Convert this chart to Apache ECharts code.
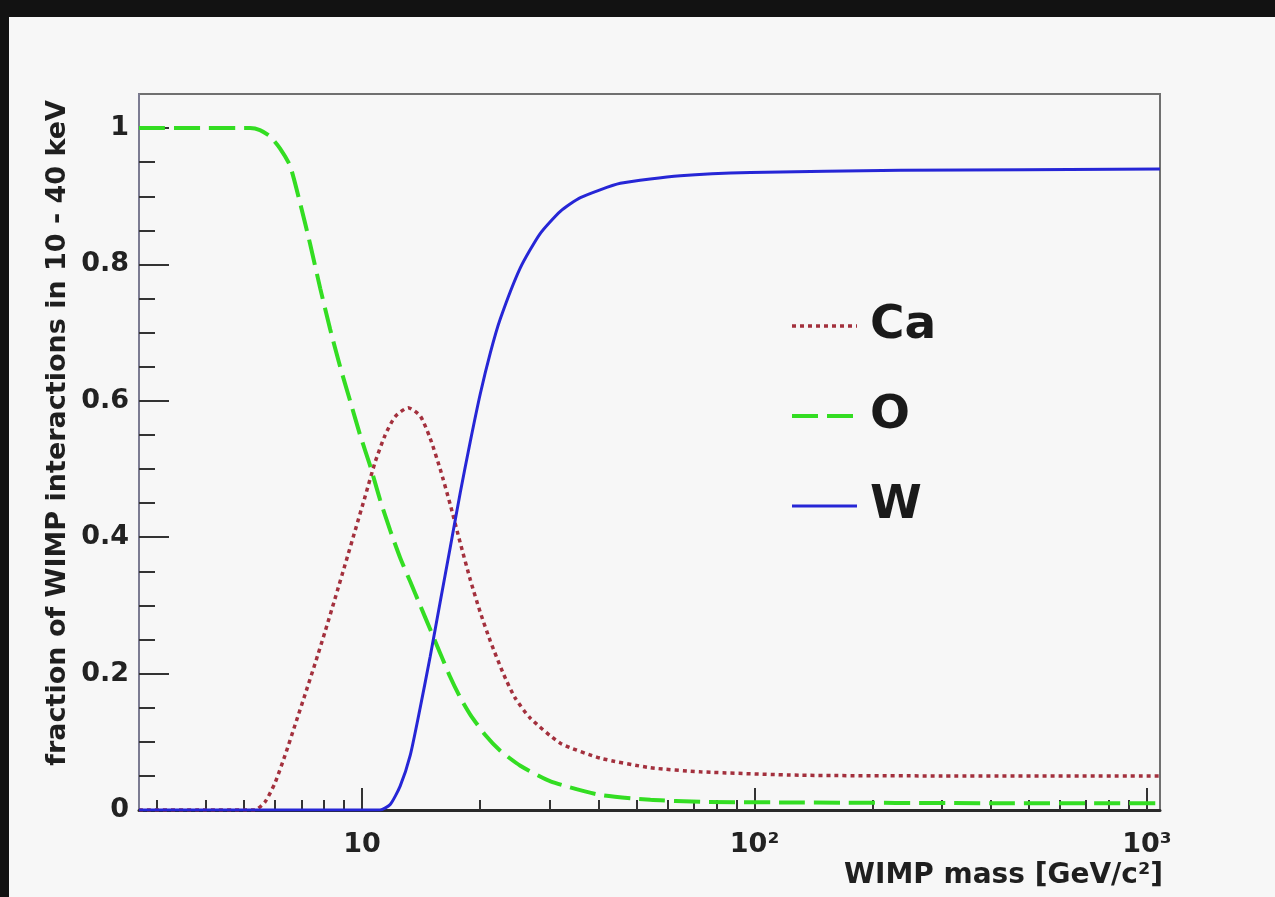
<!DOCTYPE html>
<html>
<head>
<meta charset="utf-8">
<title>WIMP interaction fractions</title>
<script src="https://cdn.jsdelivr.net/npm/echarts@6/dist/echarts.min.js"></script>
<style>
  html, body { margin: 0; padding: 0; background: #111; }
  #chart { width: 1275px; height: 897px; }
</style>
</head>
<body>
<div id="chart"></div>
<script>
// WIMP mass grid (GeV/c^2) and fraction of interactions in 10 - 40 keV per target nucleus
const caMass = [2.7, 4, 5, 5.33, 5.66, 6.0, 6.36, 6.75, 7.16, 7.59, 8.05, 8.53, 9.05, 9.6, 10.18, 10.79, 11.45, 12.14, 13.1, 14.06, 14.91, 15.81, 16.77, 17.78, 18.86, 20.0, 21.21, 22.9, 24.5, 26.8, 32.0, 40.5, 54.3, 72.8, 131, 300, 1080];
const caFrac = [0, 0, 0, 0, 0.012, 0.04, 0.08, 0.125, 0.17, 0.215, 0.262, 0.31, 0.36, 0.41, 0.46, 0.51, 0.55, 0.577, 0.59, 0.578, 0.545, 0.50, 0.448, 0.392, 0.338, 0.29, 0.248, 0.20, 0.165, 0.135, 0.098, 0.076, 0.062, 0.056, 0.051, 0.05, 0.05];

const oMass = [2.7, 4, 5.18, 5.49, 5.82, 6.18, 6.55, 6.95, 7.37, 7.82, 8.29, 8.79, 9.32, 9.88, 10.48, 11.11, 11.79, 12.5, 13.26, 14.06, 14.91, 15.81, 16.77, 17.78, 18.86, 20.6, 22.49, 25.3, 30.2, 40.5, 54.3, 72.8, 131, 400, 1080];
const oFrac = [1, 1, 1, 0.997, 0.988, 0.97, 0.945, 0.89, 0.83, 0.765, 0.705, 0.65, 0.60, 0.55, 0.505, 0.455, 0.41, 0.37, 0.335, 0.30, 0.265, 0.23, 0.195, 0.165, 0.14, 0.11, 0.087, 0.065, 0.042, 0.022, 0.015, 0.012, 0.011, 0.01, 0.01];

const wMass = [2.7, 5, 10, 11.11, 11.79, 12.5, 13.26, 14.06, 14.91, 15.81, 16.77, 17.78, 18.86, 20.0, 21.21, 22.49, 25.3, 28.4, 32.0, 36.0, 45.5, 64.7, 97.7, 235.7, 1080];
const wFrac = [0, 0, 0, 0, 0.008, 0.035, 0.08, 0.15, 0.225, 0.305, 0.385, 0.465, 0.54, 0.61, 0.67, 0.72, 0.795, 0.845, 0.878, 0.898, 0.919, 0.93, 0.935, 0.938, 0.94];

const seriesNames = ['Ca', 'O', 'W'];

// axis ticks
const xMajorTicks = [10, 100, 1000];
const xMajorLabels = ['10', '10²', '10³'];
const xMinorTicks = [3, 4, 5, 6, 7, 8, 9, 20, 30, 40, 50, 60, 70, 80, 90, 200, 300, 400, 500, 600, 700, 800, 900];
const yMajorTicks = [0, 0.2, 0.4, 0.6, 0.8, 1];
const yMinorTicks = [0.05, 0.1, 0.15, 0.25, 0.3, 0.35, 0.45, 0.5, 0.55, 0.65, 0.7, 0.75, 0.85, 0.9, 0.95];

const xTitle = 'WIMP mass [GeV/c²]';
const yTitle = 'fraction of WIMP interactions in 10 - 40 keV';

const FONT = '"DejaVu Sans", "Liberation Sans", sans-serif';
const X_MIN = 2.7, X_MAX = 1080, Y_MIN = 0, Y_MAX = 1.05;

// line styles per nucleus
const styles = {
  Ca: { color: '#a3303d', width: 3.5, type: [4, 4] },
  O: { color: '#33dd22', width: 4, type: [26, 9] },
  W: { color: '#2626d6', width: 3, type: 'solid' }
};

function pairs(xs, ys) { return xs.map((x, i) => [x, ys[i]]); }

const chart = echarts.init(document.getElementById('chart'), null, { renderer: 'canvas' });

const baseX = {
  type: 'log', logBase: 10, min: X_MIN, max: X_MAX, gridIndex: 0, position: 'bottom',
  splitLine: { show: false }, minorTick: { show: false }, minorSplitLine: { show: false }
};
const baseY = {
  type: 'value', min: Y_MIN, max: Y_MAX, gridIndex: 0, position: 'left',
  splitLine: { show: false }, minorTick: { show: false }, minorSplitLine: { show: false }
};

function lineSeries(name, xs, ys) {
  const s = styles[name];
  return {
    name, type: 'line', xAxisIndex: 0, yAxisIndex: 0,
    data: pairs(xs, ys), symbol: 'none', smooth: 0.2,
    lineStyle: { color: s.color, width: s.width, type: s.type }, itemStyle: { color: s.color }
  };
}

chart.setOption({
  backgroundColor: '#f7f7f7',
  animation: false,
  grid: { left: 139, right: 115, top: 94, bottom: 87, show: true, borderColor: '#707070', borderWidth: 2, backgroundColor: 'transparent' },
  xAxis: [
    Object.assign({}, baseX, {
      axisLine: { show: true, onZero: false, lineStyle: { color: '#2a2a2a', width: 3 } },
      axisTick: { show: true, inside: true, length: 22, customValues: xMajorTicks, lineStyle: { color: '#333', width: 2 } },
      axisLabel: {
        show: true, margin: 21, customValues: xMajorTicks,
        formatter: v => xMajorLabels[xMajorTicks.indexOf(Math.round(v))] || '',
        fontFamily: FONT, fontWeight: 'bold', fontSize: 27, color: '#222'
      }
    }),
    Object.assign({}, baseX, {
      axisLine: { show: false },
      axisTick: { show: true, inside: true, length: 10, customValues: xMinorTicks, lineStyle: { color: '#333', width: 2 } },
      axisLabel: { show: false }
    })
  ],
  yAxis: [
    Object.assign({}, baseY, {
      axisLine: { show: true, onZero: false, lineStyle: { color: '#7c7c92', width: 2 } },
      axisTick: { show: true, inside: true, length: 30, customValues: yMajorTicks, lineStyle: { color: '#333', width: 2 } },
      axisLabel: {
        show: true, margin: 10, customValues: yMajorTicks,
        formatter: v => String(Math.round(v * 10) / 10),
        fontFamily: FONT, fontWeight: 'bold', fontSize: 27, color: '#222'
      }
    }),
    Object.assign({}, baseY, {
      axisLine: { show: false },
      axisTick: { show: true, inside: true, length: 16, customValues: yMinorTicks, lineStyle: { color: '#333', width: 2 } },
      axisLabel: { show: false }
    })
  ],
  legend: {
    orient: 'vertical', left: 785, top: 296,
    itemWidth: 65, itemHeight: 14, itemGap: 40,
    data: seriesNames.map(n => ({ name: n, lineStyle: { width: styles[n].width, type: styles[n].type, color: styles[n].color } })),
    itemStyle: { opacity: 0 },
    textStyle: { fontFamily: FONT, fontWeight: 'bold', fontSize: 47, lineHeight: 50, color: '#1a1a1a', padding: [0, 0, 0, 8] }
  },
  series: [
    lineSeries('Ca', caMass, caFrac),
    lineSeries('O', oMass, oFrac),
    lineSeries('W', wMass, wFrac)
  ],
  graphic: [
    { type: 'rect', silent: true, z: 100, shape: { x: 0, y: 0, width: 1275, height: 17 }, style: { fill: '#121212' } },
    { type: 'rect', silent: true, z: 100, shape: { x: 0, y: 0, width: 9, height: 897 }, style: { fill: '#121212' } },
    {
      type: 'text', silent: true, z: 50, x: 1163, y: 876,
      style: { text: xTitle, align: 'right', verticalAlign: 'middle', font: 'bold 28px ' + FONT, fill: '#1f1f1f' }
    },
    {
      type: 'text', silent: true, z: 50, x: 58, y: 100, rotation: Math.PI / 2,
      style: { text: yTitle, align: 'right', verticalAlign: 'middle', font: 'bold 27px ' + FONT, fill: '#1f1f1f' }
    }
  ]
});
</script>
</body>
</html>
